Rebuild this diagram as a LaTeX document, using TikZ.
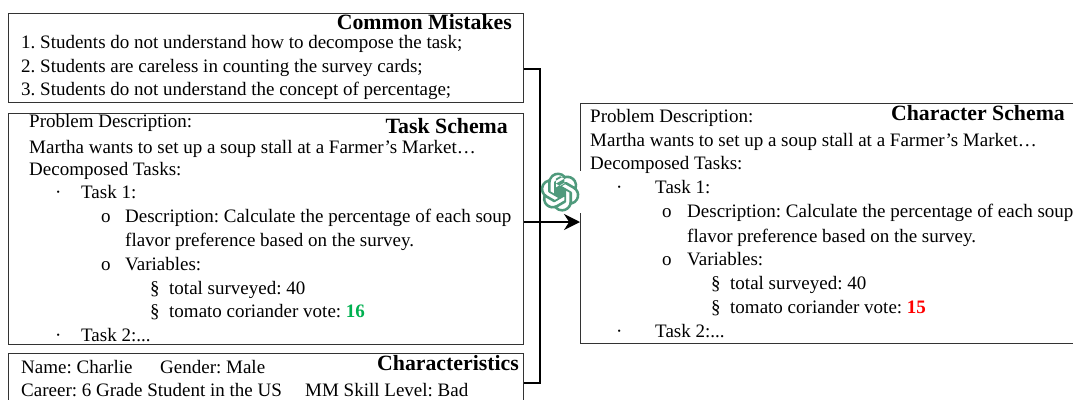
\documentclass[tikz,border=0pt]{standalone}
\usepackage{fontspec}
\setmainfont{Liberation Serif}
\usetikzlibrary{arrows.meta,calc,svg.path}
\definecolor{logogreen}{HTML}{4F9A7C}
\definecolor{framegray}{HTML}{333333}
\frenchspacing
\tikzset{
  x=1pt,y=-1pt,
  panel/.style={draw=framegray,line width=1pt,fill=none,inner sep=0pt,anchor=north west},
  txt/.style={anchor=base west,inner sep=0pt,font=\fontsize{19}{20}\selectfont},
  ttl/.style={anchor=base east,inner sep=0pt,font=\fontsize{21.8}{23}\selectfont\bfseries},
  link/.style={draw=black,line width=2pt}
}
\begin{document}
\begin{tikzpicture}
\useasboundingbox (0,0) rectangle (1073,399);
\clip (0,0) rectangle (1073,399);
% panels
\node[panel,minimum width=515pt,minimum height=89pt] (common) at (8,13) {};
\node[panel,minimum width=515pt,minimum height=231pt] (task) at (8,113) {};
\node[panel,minimum width=515pt,minimum height=58pt] (chars) at (8,353) {};
\node[panel,minimum width=520pt,minimum height=240pt] (schema) at (580,103) {};
% connector ends
\coordinate (cmOut) at (common.east |- 0,69);
\coordinate (tkOut) at (task.east |- 0,222);
\coordinate (scIn) at (schema.west |- 0,222);
\coordinate (bus) at (540,0);
\draw[link] (cmOut) -- (cmOut -| bus) -- (chars.east -| bus) -- (chars.east);
\draw[link,-{Stealth[length=16pt,width=16pt]}] (tkOut) -- (scIn);
% logo
\fill[white] (541,171) rectangle (582,213);
\begin{scope}[shift={(540.5,172.5)},yscale=-1.63,xscale=1.63]
\fill[logogreen] svg "M22.2819 9.8211a5.9847 5.9847 0 0 0-.5157-4.9108 6.0462 6.0462 0 0 0-6.5098-2.9A6.0651 6.0651 0 0 0 4.9807 4.1818a5.9847 5.9847 0 0 0-3.9977 2.9 6.0462 6.0462 0 0 0 .7427 7.0966 5.98 5.98 0 0 0 .511 4.9107 6.051 6.051 0 0 0 6.5146 2.9001A5.9847 5.9847 0 0 0 13.2599 24a6.0557 6.0557 0 0 0 5.7718-4.2058 5.9894 5.9894 0 0 0 3.9977-2.9001 6.0557 6.0557 0 0 0-.7475-7.0729zm-9.022 12.6081a4.4755 4.4755 0 0 1-2.8764-1.0408l.1419-.0804 4.7783-2.7582a.7948.7948 0 0 0 .3927-.6813v-6.7369l2.02 1.1686a.071.071 0 0 1 .038.052v5.5826a4.504 4.504 0 0 1-4.4945 4.4944zm-9.6607-4.1254a4.4708 4.4708 0 0 1-.5346-3.0137l.142.0852 4.783 2.7582a.7712.7712 0 0 0 .7806 0l5.8428-3.3685v2.3324a.0804.0804 0 0 1-.0332.0615L9.74 19.9502a4.4992 4.4992 0 0 1-6.1408-1.6464zM2.3408 7.8956a4.485 4.485 0 0 1 2.3655-1.9728V11.6a.7664.7664 0 0 0 .3879.6765l5.8144 3.3543-2.0201 1.1685a.0757.0757 0 0 1-.071 0l-4.8303-2.7865A4.504 4.504 0 0 1 2.3408 7.872zm16.5963 3.8558L13.1038 8.364 15.1192 7.2a.0757.0757 0 0 1 .071 0l4.8303 2.7913a4.4944 4.4944 0 0 1-.6765 8.1042v-5.6772a.79.79 0 0 0-.407-.667zm2.0107-3.0231l-.142-.0852-4.7735-2.7818a.7759.7759 0 0 0-.7854 0L9.409 9.2297V6.8974a.0662.0662 0 0 1 .0284-.0615l4.8303-2.7866a4.4992 4.4992 0 0 1 6.6802 4.66zM8.3065 12.863l-2.02-1.1638a.0804.0804 0 0 1-.038-.0567V6.0742a4.4992 4.4992 0 0 1 7.3757-3.4537l-.142.0805L8.704 5.459a.7948.7948 0 0 0-.3927.6813zm1.0976-2.3654l2.602-1.4998 2.6069 1.4998v2.9994l-2.5974 1.4997-2.6067-1.4997Z";
\end{scope}
% common mistakes
\node[ttl] (t1) at (512,29) {Common Mistakes};
\node[txt] (c1) at (21,48) {1. Students do not understand how to decompose the task;};
\node[txt] (c2) at (21,72) {2. Students are careless in counting the survey cards;};
\node[txt] (c3) at (21,95) {3. Students do not understand the concept of percentage;};
% task schema
\node[ttl] (t2) at (508,133) {Task Schema};
\node[txt] (a1) at (29,127) {Problem Description:};
\node[txt] (a2) at (29,153) {Martha wants to set up a soup stall at a Farmer’s Market…};
\node[txt] (a3) at (29,175) {Decomposed Tasks:};
\node[txt] (a4d) at (55,198) {·};
\node[txt] (a4) at (81,198) {Task 1:};
\node[txt] (a5o) at (101,222) {o};
\node[txt] (a5) at (125,222) {Description: Calculate the percentage of each soup};
\node[txt] (a6) at (125,246) {flavor preference based on the survey.};
\node[txt] (a7o) at (101,270) {o};
\node[txt] (a7) at (125,270) {Variables:};
\node[txt] (a8s) at (150,294) {§};
\node[txt] (a8) at (169,294) {total surveyed: 40};
\node[txt] (a9s) at (150,317) {§};
\node[txt] (a9) at (169,317) {tomato coriander vote: \textcolor[HTML]{00B050}{\textbf{16}}};
\node[txt] (a10d) at (55,341) {·};
\node[txt] (a10) at (81,341) {Task 2:...};
% characteristics
\node[ttl] (t3) at (519,370) {Characteristics};
\node[txt] (n1) at (21,373) {Name: Charlie};
\node[txt] (n2) at (160,373) {Gender: Male};
\node[txt] (n3) at (21,396) {Career: 6 Grade Student in the US};
\node[txt] (n4) at (305,396) {MM Skill Level: Bad};
% character schema
\node[ttl] (t4) at (1065,120) {Character Schema};
\node[txt] (b1) at (590,122) {Problem Description:};
\node[txt] (b2) at (590,146) {Martha wants to set up a soup stall at a Farmer’s Market…};
\node[txt] (b3) at (590,169) {Decomposed Tasks:};
\node[txt] (b4d) at (616,193) {·};
\node[txt] (b4) at (655,193) {Task 1:};
\node[txt] (b5o) at (662,217) {o};
\node[txt] (b5) at (687,217) {Description: Calculate the percentage of each soup};
\node[txt] (b6) at (687,242) {flavor preference based on the survey.};
\node[txt] (b7o) at (662,265) {o};
\node[txt] (b7) at (687,265) {Variables:};
\node[txt] (b8s) at (711,289) {§};
\node[txt] (b8) at (730,289) {total surveyed: 40};
\node[txt] (b9s) at (711,313) {§};
\node[txt] (b9) at (730,313) {tomato coriander vote: \textcolor{red}{\textbf{15}}};
\node[txt] (b10d) at (616,337) {·};
\node[txt] (b10) at (655,337) {Task 2:...};
\end{tikzpicture}
\end{document}
